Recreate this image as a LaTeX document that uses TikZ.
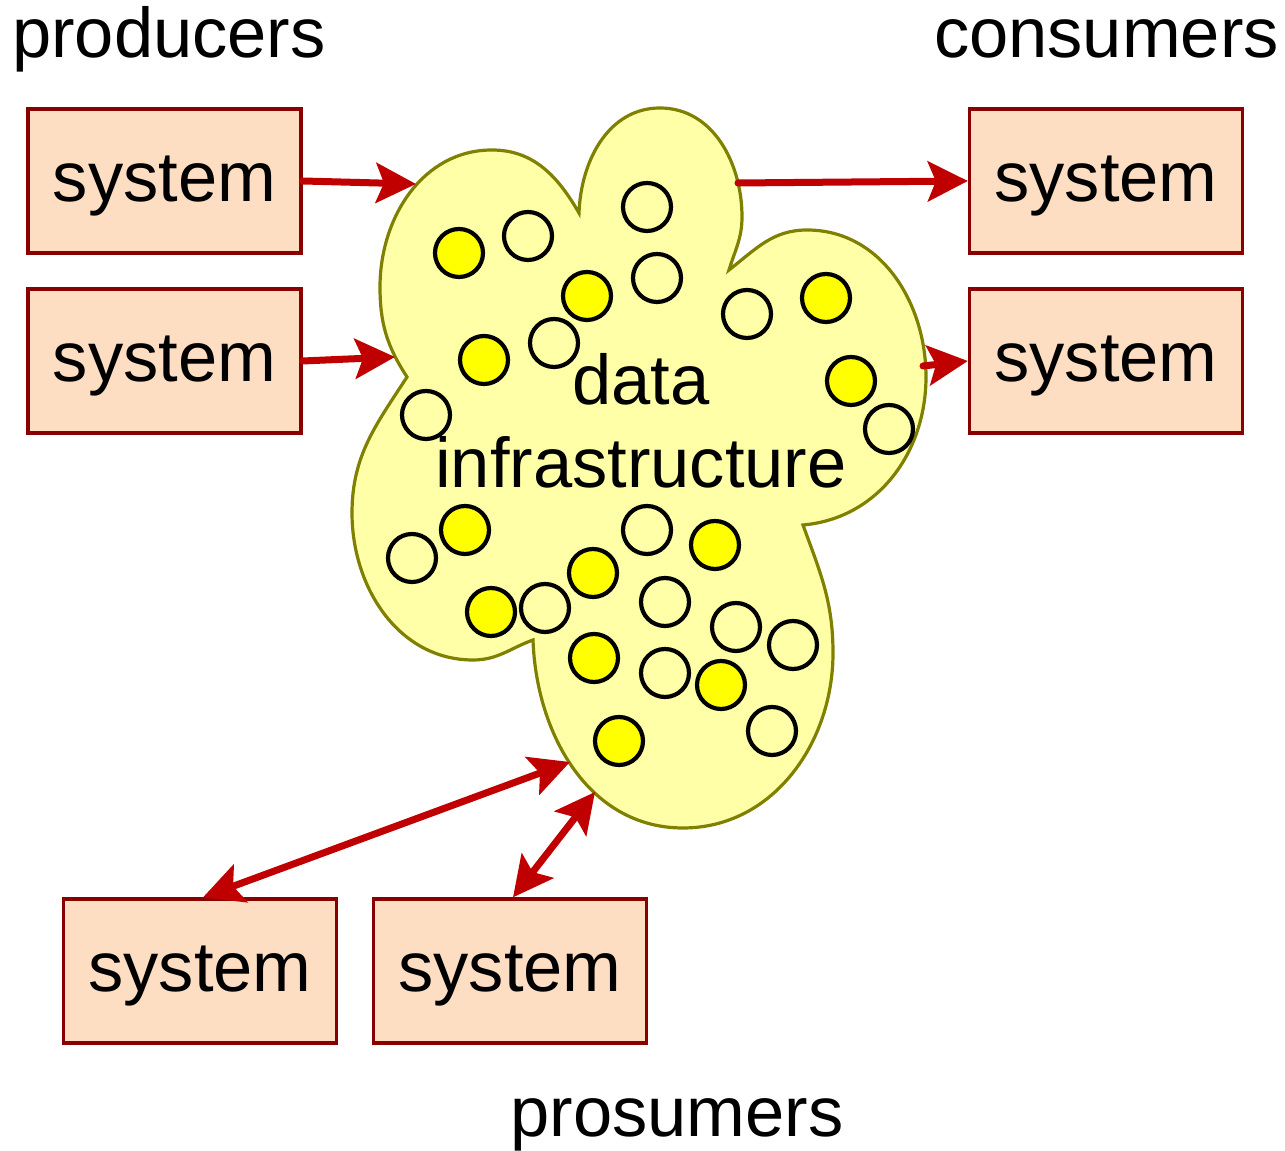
\documentclass[tikz,border=0pt]{standalone}
\usepackage{fontspec}
\setmainfont{Liberation Sans}
\usetikzlibrary{arrows.meta}

\definecolor{boxfill}{HTML}{FDDEC2}
\definecolor{boxline}{HTML}{880000}
\definecolor{flow}{HTML}{C00000}
\definecolor{cloudfill}{HTML}{FFFFA8}
\definecolor{cloudline}{HTML}{808000}
\definecolor{dotfill}{HTML}{FFFF00}

\begin{document}
\begin{tikzpicture}[x=1pt,y=1pt,
  bigtext/.style={font=\fontsize{70.5}{83}\selectfont, inner sep=0pt},
  sysbox/.style={bigtext, draw=boxline, line width=3.3pt, fill=boxfill,
    minimum width=273pt, minimum height=144pt, text height=52pt, text depth=10pt},
  flowtip/.tip={Stealth[length=40pt,width=40pt,inset=8pt]},
  flowarrow/.style={draw=flow, line width=7pt, line cap=round, -flowtip},
  twoway/.style={draw=flow, line width=7pt, flowtip-flowtip},
  bead/.style={draw=black, line width=4.2pt},
]
\useasboundingbox (0,0) rectangle (1285,1151);

% the data infrastructure cloud: five lobes meeting in sharp notches
\filldraw[fill=cloudfill, draw=cloudline, line width=3.2pt, line join=miter]
  (407,774)
  to[out=123,in=-90] (380,864)
  to[out=90,in=180] (492,1001)
  to[out=0,in=120] (579,938)
  to[out=88,in=180] (660,1043)
  to[out=0,in=90] (742,934)
  to[out=-90,in=73] (729,881)
  to[out=38,in=180] (807,921)
  to[out=0,in=90] (926,774)
  to[out=-90,in=5] (803,626)
  to[out=-70,in=90] (833,498)
  to[out=-90,in=0] (683,323)
  to[out=180,in=-88] (533,511)
  to[out=200,in=0] (473,491)
  to[out=180,in=-90] (352,638)
  to[out=90,in=-123] (407,774)
  -- cycle;

% data items inside the cloud
\foreach \p in {(528,915), (647,944), (657,873), (747,837), (554,808), (426,736), (889,722),
    (412,593), (647,621), (545,543), (665,549), (736,524), (793,506), (665,478), (772,420)}
  \filldraw[bead, fill=cloudfill] \p circle (24);
\foreach \p in {(459,898), (587,855), (484,791), (826,853), (851,770), (465,621), (593,578),
    (715,606), (491,539), (594,493), (721,466), (619,410)}
  \filldraw[bead, fill=dotfill] \p circle (24);

\node[bigtext, align=center, anchor=base] (infra) at (641,663) {data\\infrastructure};

% group labels
\node[bigtext, anchor=base west] (producers) at (12,1093) {producers};
\node[bigtext, anchor=base east] (consumers) at (1279,1093) {consumers};
\node[bigtext, anchor=base] (prosumers) at (677,14) {prosumers};

% systems
\node[sysbox] (p1) at (164.5,970) {system};
\node[sysbox] (p2) at (164.5,790) {system};
\node[sysbox] (c1) at (1106,970) {system};
\node[sysbox] (c2) at (1106,790) {system};
\node[sysbox] (b1) at (200,180) {system};
\node[sysbox] (b2) at (510,180) {system};

% attachment points on the cloud outline
\coordinate (in1) at (416,967);
\coordinate (in2) at (395,794);
\coordinate (out1) at (738,968);
\coordinate (out2) at (923,785);
\coordinate (ex1) at (570,389);
\coordinate (ex2) at (595,359);

% flows
\draw[flowarrow] (p1.east) -- (in1);
\draw[flowarrow] (p2.east) -- (in2);
\draw[flowarrow] (out1) -- (c1.west);
\draw[flowarrow] (out2) -- (c2.west);
\draw[twoway] (ex1) -- ([xshift=3pt]b1.north);
\draw[twoway] (ex2) -- ([xshift=3pt]b2.north);
\end{tikzpicture}
\end{document}
